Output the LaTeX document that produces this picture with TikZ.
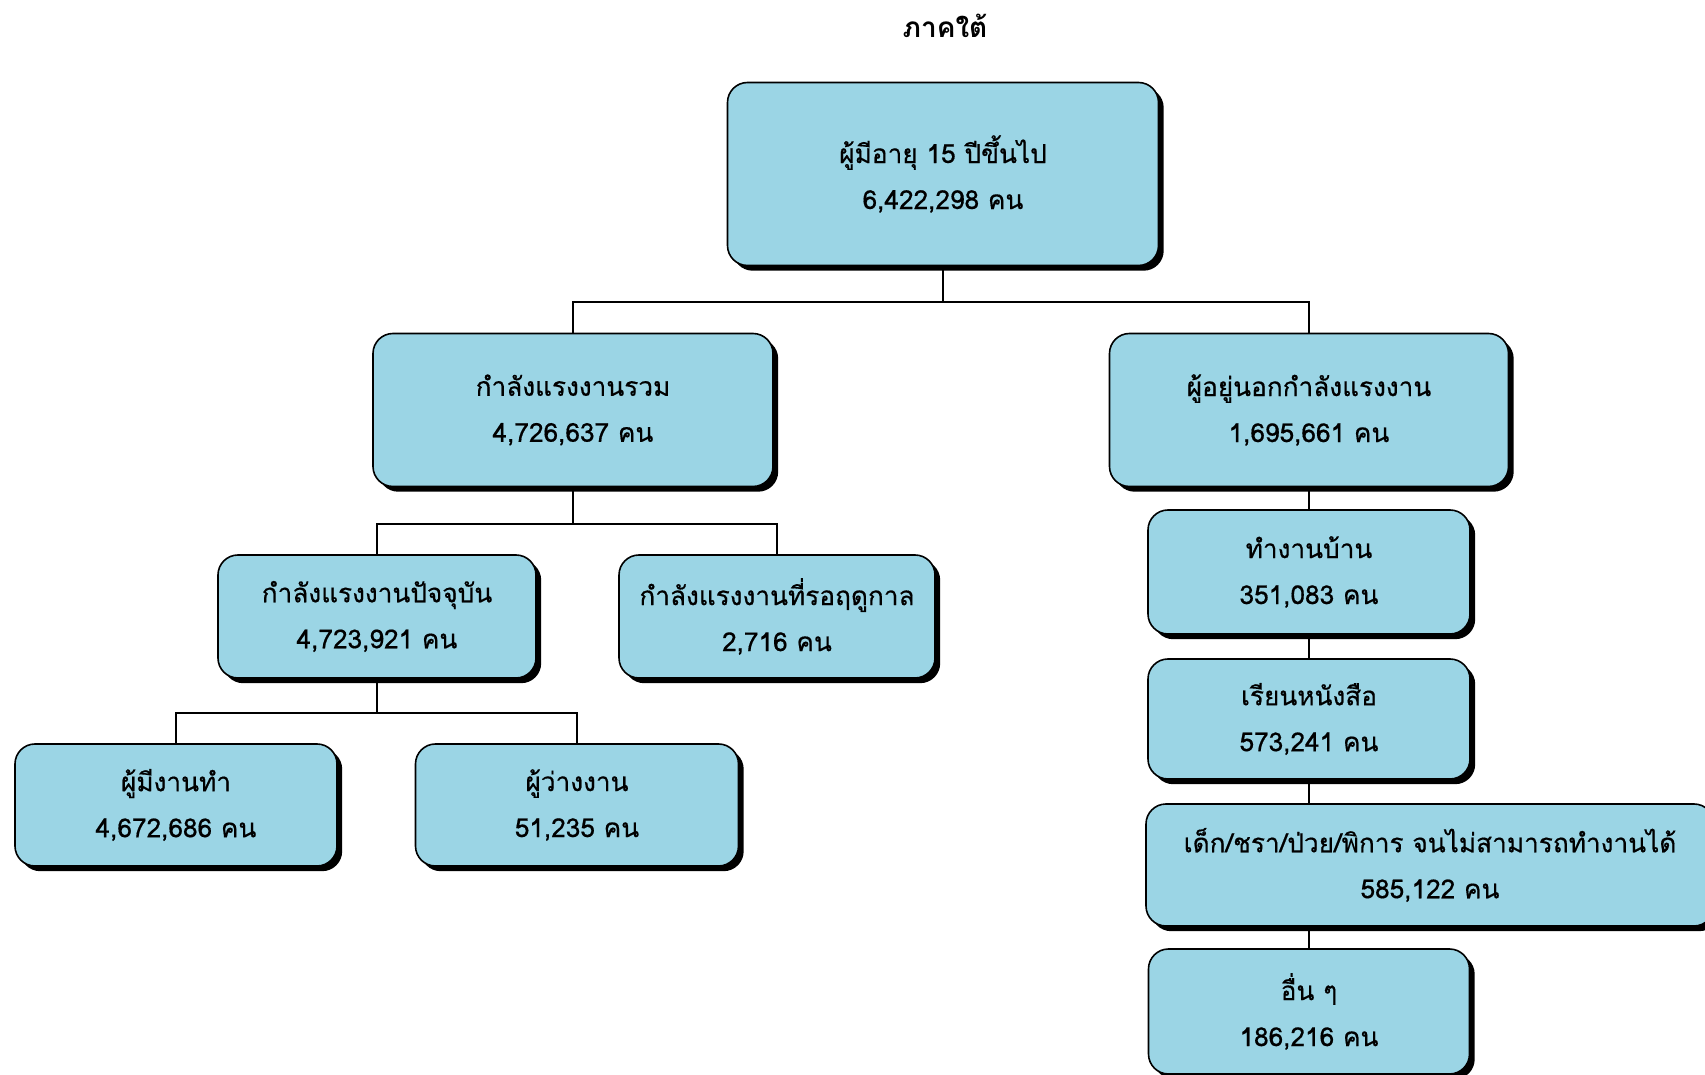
\documentclass[tikz,border=0pt]{standalone}
\usepackage{fontspec}
\newfontfamily\thaifont[Script=Thai, FakeBold=0.5]{Loma}
\newfontfamily\thaititle[Script=Thai]{Loma Bold}
\usetikzlibrary{shadows}
\usetikzlibrary{backgrounds}
\definecolor{boxblue}{RGB}{155,213,229}
\tikzset{
  box/.style={
    draw=black, line width=0.8pt, fill=boxblue, rounded corners=10pt,
    align=center, inner sep=0pt,
    font=\thaifont\fontsize{13.1}{23}\selectfont,
    drop shadow={shadow xshift=2.6pt, shadow yshift=-2.6pt, fill=black, opacity=1}
  },
  link/.style={draw=black, line width=0.8pt}
}

\begin{document}
\begin{tikzpicture}[x=0.5pt, y=-0.5pt]
\useasboundingbox (0,0) rectangle (1705,1075);
% title
\node[font=\thaititle\fontsize{14}{22}\selectfont] (title) at (945,26) {ภาคใต้};
% boxes
\node[box, minimum width=215.5pt, minimum height=91.5pt] (top) at (943,174)
  {ผู้มีอายุ 15 ปีขึ้นไป\\6,422,298 คน};
\node[box, minimum width=200pt, minimum height=76.5pt] (labour) at (573,410)
  {กำลังแรงงานรวม\\4,726,637 คน};
\node[box, minimum width=199.5pt, minimum height=76.5pt] (outside) at (1309,410)
  {ผู้อยู่นอกกำลังแรงงาน\\1,695,661 คน};
\node[box, minimum width=159pt, minimum height=61.5pt] (current) at (377,616.5)
  {กำลังแรงงานปัจจุบัน\\4,723,921 คน};
\node[box, minimum width=158pt, minimum height=61.5pt] (seasonal) at (777,616.5)
  {กำลังแรงงานที่รอฤดูกาล\\2,716 คน};
\node[box, minimum width=161pt, minimum height=61pt] (employed) at (176,805)
  {ผู้มีงานทำ\\4,672,686 คน};
\node[box, minimum width=161.5pt, minimum height=61pt] (unemployed) at (577,805)
  {ผู้ว่างงาน\\51,235 คน};
\node[box, minimum width=161pt, minimum height=62pt] (house) at (1309,572)
  {ทำงานบ้าน\\351,083 คน};
\node[box, minimum width=161pt, minimum height=60pt] (study) at (1309,719)
  {เรียนหนังสือ\\573,241 คน};
\node[box, minimum width=284pt, minimum height=61pt] (unable) at (1430,865)
  {เด็ก/ชรา/ป่วย/พิการ จนไม่สามารถทำงานได้\\585,122 คน};
\node[box, minimum width=160.5pt, minimum height=62.5pt] (other) at (1309,1011.5)
  {อื่น ๆ\\186,216 คน};
% joints
\coordinate (topjoint) at ([yshift=-18pt]top.south);
\coordinate (labourjoint) at ([yshift=-18.5pt]labour.south);
\coordinate (currentjoint) at ([yshift=-17pt]current.south);
% connectors
\begin{scope}[on background layer]
\draw[link] (top.south) -- (topjoint);
\draw[link] (labour.north) |- (topjoint) -| (outside.north);
\draw[link] (labour.south) -- (labourjoint);
\draw[link] (current.north) |- (labourjoint) -| (seasonal.north);
\draw[link] (current.south) -- (currentjoint);
\draw[link] (employed.north) |- (currentjoint) -| (unemployed.north);
\draw[link] (outside.south) -- (house.north);
\draw[link] (house.south) -- (study.north);
\draw[link] (study.south) -- (study.south |- unable.north);
\draw[link] (other.north |- unable.south) -- (other.north);
\end{scope}
\end{tikzpicture}
\end{document}
